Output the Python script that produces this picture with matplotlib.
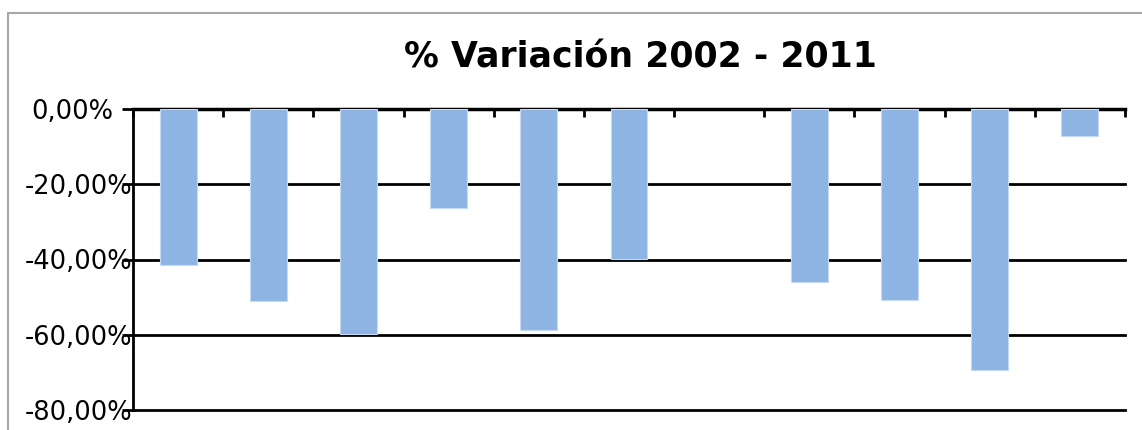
import numpy as np
import matplotlib
matplotlib.use("Agg")
import matplotlib.pyplot as plt
from matplotlib.patches import Rectangle
from matplotlib.ticker import FuncFormatter
import matplotlib.transforms as mtransforms

# Data
categories = ["C1", "C2", "C3", "C4", "C5", "C6", "C7", "C8", "C9", "C10", "C11"]
values = [-41.5, -51.0, -59.8, -26.4, -58.8, -39.9, np.nan, -46.0, -50.8, -69.4, -7.3]
y_ticks = [0, -20, -40, -60, -80]
title = "% Variación 2002 - 2011"

W, H = 1142, 430
fig = plt.figure(figsize=(W / 100, H / 100), dpi=100)
fig.patch.set_facecolor("white")

# Chart border (cropped at right / bottom)
fig.patches.append(Rectangle((7.5 / W, -0.2), 1.5, 1.2 - 12.5 / H,
                             transform=fig.transFigure, fill=False,
                             edgecolor="#a6a6a6", linewidth=1.5, zorder=0))

ax = fig.add_axes([133 / W, 1 - 410 / H, (1125 - 133) / W, (410 - 109) / H])
x = np.arange(len(categories))
ax.bar(x, values, width=0.41, color="#8EB4E3", edgecolor="#C6D9F1",
       linewidth=0.8, zorder=3)

ax.set_xlim(-0.5, len(categories) - 0.5)
ax.set_ylim(-80, 0)
ax.set_yticks(y_ticks)
ax.yaxis.set_major_formatter(FuncFormatter(lambda v, p: f"{v:.2f}%".replace(".", ",") if v != 0 else "0,00%"))
ax.tick_params(axis="y", direction="out", length=8, width=2, labelsize=18.5, pad=-7.8,
               colors="black")
ax.grid(axis="y", color="black", linewidth=2, zorder=1)
for gl in ax.yaxis.get_gridlines():
    gl.set_clip_on(False)

ax.set_xticks(np.arange(-0.5, len(categories) + 0.5, 1.0))
ax.set_xticklabels([])
ax.xaxis.set_ticks_position("top")
ax.tick_params(axis="x", direction="in", length=6, width=2)

for s in ["right", "bottom"]:
    ax.spines[s].set_visible(False)
ax.spines["top"].set_linewidth(2.5)
ax.spines["left"].set_linewidth(2)
ax.set_axisbelow(False)

# shift the zero label left (as in reference)
for lab in ax.get_yticklabels():
    if lab.get_text() == "0,00%":
        lab.set_transform(lab.get_transform() + mtransforms.ScaledTranslation(-0.19, 0, fig.dpi_scale_trans))

fig.text(640 / W, 1 - 58 / H, title, ha="center", va="center",
         fontsize=25, fontweight="bold")

fig.savefig("out.png", dpi=100)
